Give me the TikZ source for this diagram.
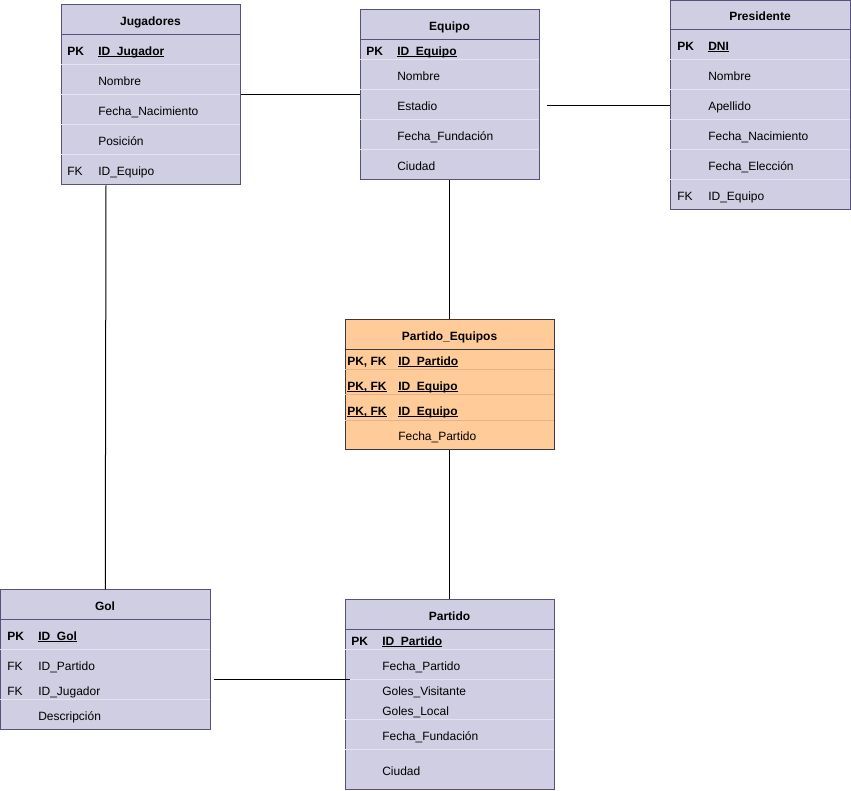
\documentclass[tikz,border=0pt]{standalone}
\usepackage{fontspec}
\setmainfont{Liberation Sans}
\usetikzlibrary{fit,calc}
\definecolor{ptfill}{HTML}{D0CEE2}
\definecolor{ptline}{HTML}{56517E}
\definecolor{ptsep}{HTML}{E4E3EF}
\definecolor{orfill}{HTML}{FFCC99}
\definecolor{orline}{HTML}{36393D}
\definecolor{orsep}{HTML}{E3B586}
\tikzset{
  ptbl/.style={fit={#1}, inner sep=0pt, draw=ptline, fill=ptfill, line width=0.75pt},
  otbl/.style={fit={#1}, inner sep=0pt, draw=orline, fill=orfill, line width=0.75pt},
  psep/.style={draw=ptsep, line width=0.75pt},
  osep/.style={draw=orsep, line width=0.75pt},
  hline/.style={line width=0.75pt},
  txt/.style={font=\fontsize{9}{10}\selectfont, anchor=base west, inner sep=0pt, yshift=-1.2pt},
  key/.style={font=\fontsize{9}{10}\selectfont\bfseries, anchor=base west, inner sep=0pt, yshift=-1.2pt},
  ttl/.style={font=\fontsize{9}{10}\selectfont\bfseries, anchor=base, inner sep=0pt, yshift=-1.2pt},
  conn/.style={draw=black, line width=0.75pt},
}
\newcommand{\ul}[1]{\setbox0\hbox{#1}\rlap{\rule[-1.1pt]{\wd0}{0.6pt}}\box0}
\begin{document}
\begin{tikzpicture}[x=0.75pt,y=-0.75pt]
\useasboundingbox (0,0) rectangle (851,791);

% ---------- Jugadores ----------
\node[ptbl={(61,5) (240,185)}] (jug) {};
\draw[psep] (61,65) -- (240,65) (61,95) -- (240,95) (61,125) -- (240,125) (61,155) -- (240,155);
\draw[hline,draw=ptline] (61,35) -- (240,35);
\node[ttl] (jugt) at (150.5,24) {Jugadores};
\node[key] (jugk1) at (67,54) {PK};
\node[key] (jugn1) at (98,54) {\ul{ID\_Jugador}};
\node[txt] (jugn2) at (98,84) {Nombre};
\node[txt] (jugn3) at (98,114) {Fecha\_Nacimiento};
\node[txt] (jugn4) at (98,144) {Posición};
\node[txt] (jugk5) at (67,174) {FK};
\node[txt] (jugn5) at (98,174) {ID\_Equipo};

% ---------- Equipo ----------
\node[ptbl={(360,10) (539,180)}] (equ) {};
\draw[psep] (360,60) -- (539,60) (360,90) -- (539,90) (360,120) -- (539,120) (360,150) -- (539,150);
\draw[hline,draw=ptline] (360,40) -- (539,40);
\node[ttl] (equt) at (449.5,29) {Equipo};
\node[key] (equk1) at (366,54) {PK};
\node[key] (equn1) at (397,54) {\ul{ID\_Equipo}};
\node[txt] (equn2) at (397,79) {Nombre};
\node[txt] (equn3) at (397,109) {Estadio};
\node[txt] (equn4) at (397,139) {Fecha\_Fundación};
\node[txt] (equn5) at (397,169) {Ciudad};

% ---------- Presidente ----------
\node[ptbl={(670,0.5) (850,210)}] (pre) {};
\draw[psep] (670,60) -- (850,60) (670,90) -- (850,90) (670,120) -- (850,120) (670,150) -- (850,150) (670,180) -- (850,180);
\draw[hline,draw=ptline] (670,30) -- (850,30);
\node[ttl] (pret) at (760,19) {Presidente};
\node[key] (prek1) at (677,49) {PK};
\node[key] (pren1) at (708,49) {\ul{DNI}};
\node[txt] (pren2) at (708,79) {Nombre};
\node[txt] (pren3) at (708,109) {Apellido};
\node[txt] (pren4) at (708,139) {Fecha\_Nacimiento};
\node[txt] (pren5) at (708,169) {Fecha\_Elección};
\node[txt] (prek6) at (677,199) {FK};
\node[txt] (pren6) at (708,199) {ID\_Equipo};

% ---------- Partido_Equipos ----------
\node[otbl={(345,320) (554,450)}] (pe) {};
\draw[osep] (345,370) -- (554,370) (345,395) -- (554,395) (345,421) -- (554,421);
\draw[hline,draw=orline] (345,350) -- (554,350);
\node[ttl] (pet) at (449.5,339) {Partido\_Equipos};
\node[key] (pek1) at (347,364) {PK, FK};
\node[key] (pen1) at (398,364) {\ul{ID\_Partido}};
\node[key] (pek2) at (347,389) {\ul{PK, FK}};
\node[key] (pen2) at (398,389) {\ul{ID\_Equipo}};
\node[key] (pek3) at (347,414) {\ul{PK, FK}};
\node[key] (pen3) at (398,414) {\ul{ID\_Equipo}};
\node[txt] (pen4) at (398,439) {Fecha\_Partido};

% ---------- Gol ----------
\node[ptbl={(0.5,590) (210,730)}] (gol) {};
\draw[psep] (0,650) -- (210,650) (0,700) -- (210,700);
\draw[hline,draw=ptline] (0,620) -- (210,620);
\node[ttl] (golt) at (105,609) {Gol};
\node[key] (golk1) at (7,639) {PK};
\node[key] (goln1) at (38,639) {\ul{ID\_Gol}};
\node[txt] (golk2) at (7,669) {FK};
\node[txt] (goln2) at (38,669) {ID\_Partido};
\node[txt] (golk3) at (7,694) {FK};
\node[txt] (goln3) at (38,694) {ID\_Jugador};
\node[txt] (goln4) at (38,719) {Descripción};

% ---------- Partido ----------
\node[ptbl={(345,600) (554,790)}] (par) {};
\draw[psep] (345,650) -- (554,650) (345,680) -- (554,680) (345,720) -- (554,720) (345,750) -- (554,750);
\draw[hline,draw=ptline] (345,630) -- (554,630);
\node[ttl] (part) at (449.5,619) {Partido};
\node[key] (park1) at (351,644) {PK};
\node[key] (parn1) at (382,644) {\ul{ID\_Partido}};
\node[txt] (parn2) at (382,669) {Fecha\_Partido};
\node[txt] (parn3) at (382,694) {Goles\_Visitante};
\node[txt] (parn4) at (382,714) {Goles\_Local};
\node[txt] (parn5) at (382,739) {Fecha\_Fundación};
\node[txt] (parn6) at (382,774) {Ciudad};

% ---------- connectors ----------
\draw[conn] (jug.east) -- (equ.west);
\draw[conn] ($(equ.east |- pre.west)+(7,0)$) -- (pre.west);
\draw[conn] (equ.south) -- (pe.north);
\draw[conn] (pe.south) -- (par.north);
\draw[conn] ($(jug.south west)+(45.5,0)$) -- (gol.north);
\draw[conn] ($(gol.east)+(3,20)$) -- ($(par.west)+(5,-15)$);
\end{tikzpicture}
\end{document}
